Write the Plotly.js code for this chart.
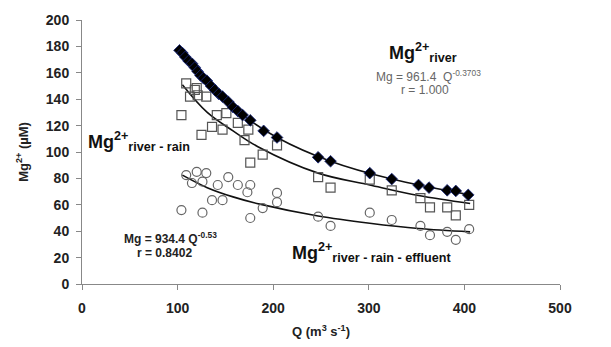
<!DOCTYPE html>
<html>
<head>
<meta charset="utf-8">
<script src="https://cdn.plot.ly/plotly-3.0.1.min.js"></script>
<style>html,body{margin:0;padding:0;background:#fff;}#chart{width:611px;height:347px;}</style>
</head>
<body>
<div id="chart"></div>
<script>
// Mg2+ river (filled diamonds)
const riverQ  = [102,105,108,111.5,115,118,121,124,127,130.5,135,139,143,147,153,158,163,168,176,190,204,247,260,301,324,352,363,382,391,404];
const riverMg = [177,175,172,169,167,164,161,158,156,154,150,147,144,142,138,134,131,128,124,116,111,96,93,84,79.5,75,73,71,70.5,67.5];
// Mg2+ river - rain (open squares)
const rainQ  = [104,109,113,118,120,121,130,125,136,141,147,151,163,170,174,176,189,204,247,260,301,324,354,364,382,391,405];
const rainMg = [128,152,142,147,148.5,143,142,113,119,128,117,129.5,122,109,117,92,98,105,81,73,79,71,65,58,58,52,60];
// Mg2+ river - rain - effluent (open circles)
const effQ  = [104,109,115,120,126,130,126,136,142,147,153,163,173,176,176,189,204,204,247,260,301,324,354,364,382,391,405];
const effMg = [56,82.5,76.5,85,77.5,84,54,63.5,75,63.5,81,75,69.5,75,50,57.5,69,62,51,44,54,48.5,44,37,39.5,33.5,41.5];
// trend curves
const riverFitQ  = [102,116,131,147,168,204,260,324,406];
const riverFitMg = [177,164,152,141,128,111,93,79.5,67.5];
const rainFitQ  = [105,131,158,184,247,301,352,406];
const rainFitMg = [151,130,116,104,84,75,67,61];
const effFitQ  = [105,131,158,186,247,301,352,406];
const effFitMg = [82.5,73,66,60.5,51.5,46,42,39.5];

const xTicks = [0,100,200,300,400,500];
const yTicks = [0,20,40,60,80,100,120,140,160,180,200];

const FONT = 'Liberation Sans, Arial, sans-serif';
const fitLine = {color:'#111', width:1.6, shape:'spline', smoothing:1};
const W = 478, H = 264;   // plot-area size in px, for annotation placement

const traces = [
  {x:rainFitQ, y:rainFitMg, mode:'lines', line:fitLine, hoverinfo:'skip'},
  {x:effFitQ, y:effFitMg, mode:'lines', line:fitLine, hoverinfo:'skip'},
  {x:effQ, y:effMg, mode:'markers', marker:{symbol:'circle-open', size:9, color:'#666', line:{width:1.2}}},
  {x:rainQ, y:rainMg, mode:'markers', marker:{symbol:'square-open', size:9, color:'#555', line:{width:1.2}}},
  {x:riverFitQ, y:riverFitMg, mode:'lines', line:fitLine, hoverinfo:'skip'},
  {x:riverQ, y:riverMg, mode:'markers', marker:{symbol:'diamond', size:9, color:'#000', line:{color:'#1a2a80', width:0.8}}}
];

const layout = {
  width:611, height:347,
  margin:{l:82, r:51, t:20, b:63},
  paper_bgcolor:'#fff', plot_bgcolor:'#fff',
  showlegend:false,
  font:{family:FONT, color:'#111'},
  xaxis:{range:[0,500], tickvals:xTicks, ticktext:xTicks.map(String),
    showline:true, linecolor:'#888', linewidth:1, ticks:'outside', ticklen:5, tickcolor:'#888',
    ticklabelstandoff:6,
    showgrid:false, zeroline:false, tickfont:{family:FONT, size:14, color:'#222', weight:'bold'},
    title:{text:'Q (m<sup>3</sup> s<sup>-1</sup>)', font:{family:FONT, size:13, color:'#222', weight:'bold'}, standoff:12}},
  yaxis:{range:[0,200], tickvals:yTicks, ticktext:yTicks.map(String),
    showline:true, linecolor:'#888', linewidth:1, ticks:'outside', ticklen:5, tickcolor:'#888',
    ticklabelstandoff:4,
    showgrid:false, zeroline:false, tickfont:{family:FONT, size:14, color:'#222', weight:'bold'},
    title:{text:'Mg<sup>2+</sup> (µM)', font:{family:FONT, size:13, color:'#222', weight:'bold'}, standoff:14}},
  annotations:[
    {xref:'paper', yref:'paper', x:(387-82)/W, y:(284-52)/H, xanchor:'left', yanchor:'middle', showarrow:false,
     text:'<b>Mg<sup>2+</sup><sub>river</sub></b>', font:{family:FONT, size:18, color:'#111'}},
    {xref:'paper', yref:'paper', x:(428-82)/W, y:(284-76)/H, xanchor:'center', yanchor:'middle', showarrow:false,
     text:'Mg = 961.4  Q<sup>-0.3703</sup>', font:{family:FONT, size:12, color:'#666'}},
    {xref:'paper', yref:'paper', x:(425-82)/W, y:(284-90)/H, xanchor:'center', yanchor:'middle', showarrow:false,
     text:'r = 1.000', font:{family:FONT, size:12, color:'#666'}},
    {xref:'paper', yref:'paper', x:(86-82)/W, y:(284-141)/H, xanchor:'left', yanchor:'middle', showarrow:false,
     text:'<b>Mg<sup>2+</sup><sub>river - rain</sub></b>', font:{family:FONT, size:18, color:'#111'}},
    {xref:'paper', yref:'paper', x:(170-82)/W, y:(284-238)/H, xanchor:'center', yanchor:'middle', showarrow:false,
     text:'<b>Mg = 934.4 Q<sup>-0.53</sup></b>', font:{family:FONT, size:12, color:'#222'}},
    {xref:'paper', yref:'paper', x:(164-82)/W, y:(284-253)/H, xanchor:'center', yanchor:'middle', showarrow:false,
     text:'<b>r = 0.8402</b>', font:{family:FONT, size:12, color:'#222'}},
    {xref:'paper', yref:'paper', x:(290-82)/W, y:(284-252)/H, xanchor:'left', yanchor:'middle', showarrow:false,
     text:'<b>Mg<sup>2+</sup><sub>river - rain - effluent</sub></b>', font:{family:FONT, size:18, color:'#111'}}
  ]
};

Plotly.newPlot('chart', traces, layout, {staticPlot:true, displayModeBar:false});
</script>
</body>
</html>
